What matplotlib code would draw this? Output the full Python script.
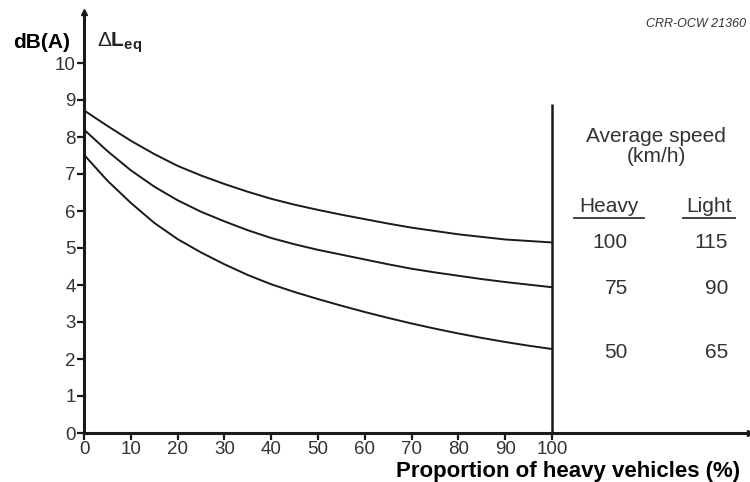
import matplotlib
matplotlib.use("Agg")
from matplotlib import pyplot as plt
from matplotlib.lines import Line2D

# (dB(A) vs % heavy vehicles)
share_heavy = [0, 5, 10, 15, 20, 25, 30, 35, 40, 45, 50, 55, 60, 65, 70, 75, 80, 85, 90, 95, 100]
dl_100_115 = [8.72, 8.30, 7.90, 7.54, 7.22, 6.96, 6.73, 6.52, 6.33, 6.17, 6.03,
              5.90, 5.78, 5.66, 5.55, 5.46, 5.37, 5.30, 5.23, 5.19, 5.15]
dl_75_90 = [8.20, 7.62, 7.10, 6.66, 6.29, 5.98, 5.72, 5.48, 5.27, 5.10, 4.95,
            4.82, 4.69, 4.56, 4.44, 4.34, 4.25, 4.16, 4.08, 4.01, 3.94]
dl_50_65 = [7.52, 6.82, 6.22, 5.68, 5.24, 4.88, 4.56, 4.27, 4.02, 3.81, 3.62,
            3.44, 3.27, 3.11, 2.96, 2.82, 2.69, 2.57, 2.46, 2.36, 2.27]

heavy_speeds = ["100", "75", "50"]
light_speeds = ["115", "90", "65"]

xticks = list(range(0, 101, 10))
yticks = list(range(0, 11))

plt.rcParams["font.family"] = ["Liberation Sans", "DejaVu Sans"]
plt.rcParams["mathtext.fontset"] = "custom"
plt.rcParams["mathtext.rm"] = "Liberation Sans"
plt.rcParams["mathtext.bf"] = "Liberation Sans:bold"

W, H = 750, 482
fig = plt.figure(figsize=(W / 100, H / 100), dpi=100)
# axis origin sits at pixel (84, 433); y runs 37 px per dB, x 4.68 px per %
ax = fig.add_axes([84 / W, 1 - 433 / H, 666 / W, 421 / H])
ax.set_xlim(0, 666 / 4.68)
ax.set_ylim(0, 421 / 37)

for ys in (dl_100_115, dl_75_90, dl_50_65):
    ax.plot(share_heavy, ys, color="#1a1a1a", lw=1.4)

ax.vlines(100, 0, 8.9, color="#1a1a1a", lw=1.8)

for s in ("top", "right"):
    ax.spines[s].set_visible(False)
for s in ("left", "bottom"):
    ax.spines[s].set_linewidth(2.2)
    ax.spines[s].set_color("#1a1a1a")

# arrow heads on the axes
ax.plot(1, 0, ">", color="#1a1a1a", ms=5, transform=ax.transAxes, clip_on=False)
ax.plot(0, 1, "^", color="#1a1a1a", ms=5, transform=ax.transAxes, clip_on=False)

ax.set_xticks(xticks)
ax.set_yticks(yticks)
ax.tick_params(direction="out", length=5, width=1.6, color="#1a1a1a",
               labelsize=13.5, labelcolor="#333333", pad=1)

def px(x, y):
    return x / W, 1 - y / H

fig.text(*px(42, 43), "dB(A)", fontsize=15, fontweight="bold", ha="center", va="center")
fig.text(*px(97, 43), r"$\Delta\mathbf{L}_{\mathbf{eq}}$", fontsize=15, ha="left", va="center",
         color="#222222")
fig.text(*px(646, 24), "CRR-OCW 21360", fontsize=9, style="italic", ha="left", va="center",
         color="#333333")
fig.text(*px(740, 471), "Proportion of heavy vehicles (%)", fontsize=16, fontweight="bold",
         ha="right", va="center")

fig.text(*px(656, 136), "Average speed", fontsize=15, ha="center", va="center", color="#333333")
fig.text(*px(656, 156), "(km/h)", fontsize=15, ha="center", va="center", color="#333333")
fig.text(*px(609, 207), "Heavy", fontsize=15, ha="center", va="center", color="#333333")
fig.text(*px(709, 207), "Light", fontsize=15, ha="center", va="center", color="#333333")
for x0, x1 in ((574, 644), (683, 735)):
    fig.add_artist(Line2D([x0 / W, x1 / W], [1 - 218 / H] * 2, color="#333333", lw=1.3))

for i, (hv, lt) in enumerate(zip(heavy_speeds, light_speeds)):
    y_px = [243, 288, 352][i]
    fig.text(*px(628, y_px), hv, fontsize=15, ha="right", va="center", color="#333333")
    fig.text(*px(728, y_px), lt, fontsize=15, ha="right", va="center", color="#333333")

fig.savefig("out.png", dpi=100, facecolor="white")
